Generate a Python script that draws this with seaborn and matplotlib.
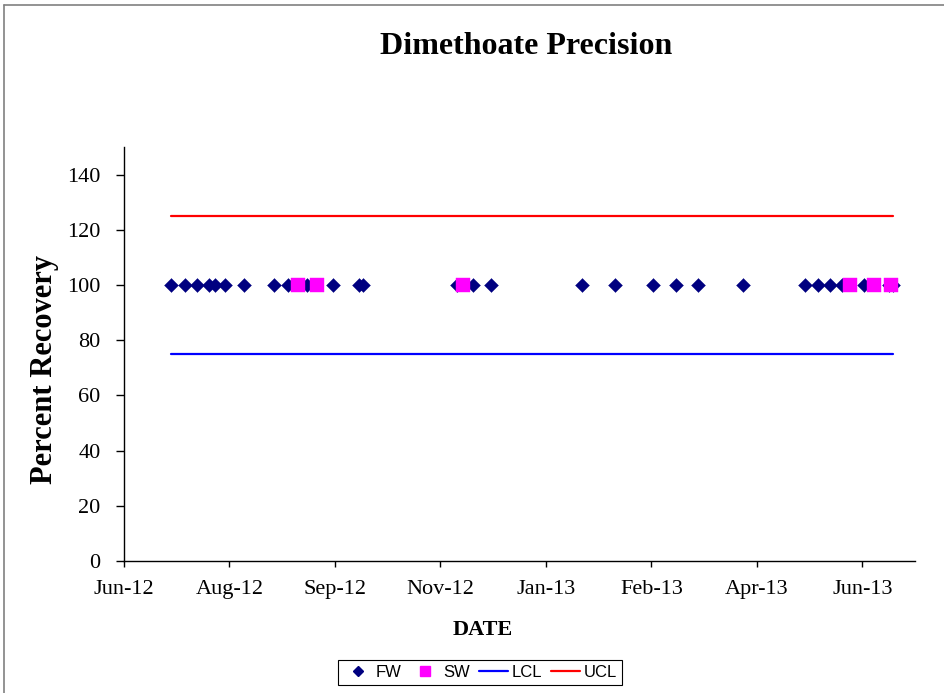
import matplotlib
matplotlib.use("Agg")
import matplotlib.pyplot as plt
from matplotlib.lines import Line2D
import pandas as pd
import seaborn as sns

# ---------------- data ----------------
fw_dates = ['2012-07-05', '2012-07-12', '2012-07-18', '2012-07-24', '2012-07-27',
            '2012-08-01', '2012-08-10', '2012-08-25', '2012-09-01', '2012-09-10',
            '2012-09-23', '2012-10-06', '2012-10-08', '2012-11-23', '2012-12-01',
            '2012-12-10', '2013-01-24', '2013-02-09', '2013-02-28', '2013-03-11',
            '2013-03-22', '2013-04-13', '2013-05-14', '2013-05-20', '2013-05-26',
            '2013-06-01', '2013-06-12', '2013-06-24', '2013-06-26']
fw_recovery = [100, 100, 100, 100, 100, 100, 100, 100, 100, 100,
               100, 100, 100, 100, 100, 100, 100, 100, 100, 100,
               100, 100, 100, 100, 100, 100, 100, 100, 100]

sw_dates = ['2012-09-06', '2012-09-15', '2012-11-26', '2013-06-05', '2013-06-17', '2013-06-25']
sw_recovery = [100, 100, 100, 100, 100, 100]

lcl_value = 75
ucl_value = 125

tick_dates = ['2012-06-12', '2012-08-03', '2012-09-24', '2012-11-15',
              '2013-01-06', '2013-02-27', '2013-04-20', '2013-06-11']
tick_labels = ['Jun-12', 'Aug-12', 'Sep-12', 'Nov-12', 'Jan-13', 'Feb-13', 'Apr-13', 'Jun-13']
x_min, x_max = '2012-06-12', '2013-07-07'
y_ticks = [0, 20, 40, 60, 80, 100, 120, 140]

# ---------------- tables ----------------
fw = pd.DataFrame({'date': pd.to_datetime(fw_dates), 'recovery': fw_recovery})
sw = pd.DataFrame({'date': pd.to_datetime(sw_dates), 'recovery': sw_recovery})
all_dates = pd.to_datetime(sorted(fw_dates + sw_dates))
limits = pd.DataFrame({'date': all_dates,
                       'LCL': [lcl_value] * len(all_dates),
                       'UCL': [ucl_value] * len(all_dates)})

# ---------------- figure ----------------
sns.set_theme(style="white")
plt.rcParams['font.family'] = ['Liberation Serif', 'DejaVu Serif']
plt.rcParams['text.color'] = 'black'
plt.rcParams['axes.labelcolor'] = 'black'

fig = plt.figure(figsize=(9.44, 6.93), dpi=100)
fig.patch.set_facecolor('white')
ax = fig.add_axes([124 / 944, 1 - 561 / 693, (915 - 124) / 944, (561 - 147) / 693])
ax.set_facecolor('white')

sns.lineplot(data=limits, x='date', y='LCL', ax=ax, color='#0000FF', linewidth=1.6)
sns.lineplot(data=limits, x='date', y='UCL', ax=ax, color='#FF0000', linewidth=1.6)
sns.scatterplot(data=fw, x='date', y='recovery', ax=ax, marker='D', s=50,
                color='#000080', edgecolor='#000080', linewidth=0.3, zorder=3)
sns.scatterplot(data=sw, x='date', y='recovery', ax=ax, marker='s', s=88,
                color='#FF00FF', edgecolor='#FF00FF', linewidth=0.3, zorder=4)

ax.set_xlim(pd.Timestamp(x_min), pd.Timestamp(x_max))
ax.set_ylim(0, 150)
ax.set_yticks(y_ticks)
ax.set_yticklabels([str(v) for v in y_ticks])
ax.set_xticks(pd.to_datetime(tick_dates))
ax.set_xticklabels(tick_labels)

for side in ['top', 'right']:
    ax.spines[side].set_visible(False)
for side in ['left', 'bottom']:
    ax.spines[side].set_color('black')
    ax.spines[side].set_linewidth(1.0)

ax.tick_params(axis='y', which='major', direction='out', length=6, width=1,
               color='black', pad=11, labelsize=16, labelcolor='black', left=True)
ax.tick_params(axis='x', which='major', direction='out', length=4, width=1,
               color='black', pad=10, labelsize=16, labelcolor='black', bottom=True)

ax.set_xlabel('')
ax.set_ylabel('')
fig.text(483 / 944, 1 - 630 / 693, 'DATE', ha='center', va='center',
         fontsize=16, fontweight='bold', color='black')
fig.text(45 / 944, 1 - 370 / 693, 'Percent Recovery', ha='center', va='center',
         rotation=90, fontsize=22, fontweight='bold', color='black')
fig.text(526 / 944, 1 - 46 / 693, 'Dimethoate Precision', ha='center', va='center',
         fontsize=23, fontweight='bold', color='black')

# legend
handles = [
    Line2D([], [], marker='D', color='#000080', linestyle='none', markersize=5),
    Line2D([], [], marker='s', color='#FF00FF', linestyle='none', markersize=7),
    Line2D([], [], color='#0000FF', linewidth=1.6),
    Line2D([], [], color='#FF0000', linewidth=1.6),
]
leg = fig.legend(handles, ['FW', 'SW', 'LCL', 'UCL'], ncol=4,
                 loc='center', bbox_to_anchor=(480 / 944, 1 - 672.5 / 693),
                 prop={'family': ['Liberation Sans', 'DejaVu Sans'], 'size': 12},
                 frameon=True, fancybox=False, edgecolor='black', framealpha=1,
                 handlelength=1.75, handletextpad=0.2, columnspacing=0.55,
                 borderpad=0.3, borderaxespad=0)
leg.get_frame().set_linewidth(0.8)
for t in leg.get_texts():
    t.set_color('black')

# chart area border (top and left visible)
fig.add_artist(Line2D([4 / 944, 1.0], [1 - 5 / 693, 1 - 5 / 693],
                      transform=fig.transFigure, color='#808080', linewidth=1.2))
fig.add_artist(Line2D([4 / 944, 4 / 944], [0.0, 1 - 5 / 693],
                      transform=fig.transFigure, color='#808080', linewidth=1.2))

fig.savefig('out.png', dpi=100, facecolor='white')
